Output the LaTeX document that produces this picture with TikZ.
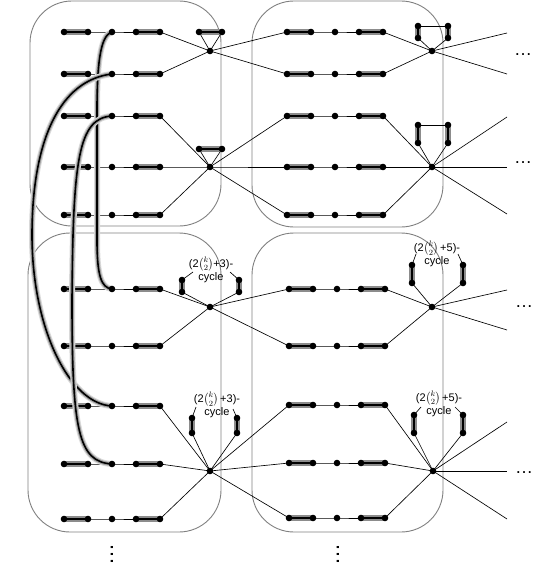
\documentclass[tikz,border=0pt]{standalone}
\usepackage{amsmath}
\usepackage{fontspec}
\setmainfont{Liberation Sans}
\pgfdeclarelayer{bg}\pgfdeclarelayer{mid}\pgfsetlayers{bg,mid,main}
\tikzset{
 vtx/.style={circle,fill=black,inner sep=0pt,minimum size=6.6pt},
 plain/.style={line width=0.65pt},
 match/.style={preaction={draw=black!45,line width=5.2pt},line width=1.2pt},
 longcurve/.style={preaction={draw=black!15,line width=6pt},preaction={draw=black!38,line width=3.8pt},line width=1.6pt},
 blob/.style={draw=black!50,line width=0.9pt,rounded corners=42pt},
 lbl/.style={align=center,font=\fontsize{11}{13}\selectfont,inner sep=0pt},
 hdots/.style={font=\fontsize{18}{18}\selectfont,inner sep=0pt},
 vdotsnode/.style={font=\fontsize{22}{22}\selectfont,inner sep=0pt,rotate=90}
}
\newcommand\mkrow[7]{\node[vtx](#1-1) at (#3,#2){};\node[vtx](#1-2) at (#4,#2){};\node[vtx](#1-3) at (#5,#2){};\node[vtx](#1-4) at (#6,#2){};\node[vtx](#1-5) at (#7,#2){};}
\newcommand\edrow[1]{\draw[match](#1-1.center)--(#1-2.center);\draw[plain](#1-2.center)--(#1-3.center)--(#1-4.center);\draw[match](#1-4.center)--(#1-5.center);}
\newcommand\mkcyc[5]{\node[vtx](#1a) at (#2,#4){};\node[vtx](#1b) at (#2,#5){};\node[vtx](#1c) at (#3,#4){};\node[vtx](#1d) at (#3,#5){};}
\begin{document}
\begin{tikzpicture}[x=1pt,y=-1pt]
\useasboundingbox (0,0) rectangle (539,567);
% rows
\mkrow{ra1}{32}{64}{88}{112}{136}{160}
\mkrow{ra2}{74}{64}{88}{112}{136}{160}
\mkrow{ra3}{116}{64}{88}{112}{136}{160}
\mkrow{ra4}{167}{64}{88}{112}{136}{160}
\mkrow{ra5}{215}{64}{88}{112}{136}{160}
\mkrow{rb1}{32}{287}{311}{335}{359}{383}
\mkrow{rb2}{74}{287}{311}{335}{359}{383}
\mkrow{rb3}{116}{287}{311}{335}{359}{383}
\mkrow{rb4}{167}{287}{311}{335}{359}{383}
\mkrow{rb5}{215}{287}{311}{335}{359}{383}
\mkrow{rc1}{289}{64}{88}{112}{136}{160}
\mkrow{rc2}{346}{64}{88}{112}{136}{160}
\mkrow{rc3}{406}{64}{88}{112}{136}{160}
\mkrow{rc4}{464}{64}{88}{112}{136}{160}
\mkrow{rc5}{519}{64}{88}{112}{136}{160}
\mkrow{rd1}{289}{289}{313}{337}{361}{385}
\mkrow{rd2}{346}{289}{313}{337}{361}{385}
\mkrow{rd3}{405}{289}{313}{337}{361}{385}
\mkrow{rd4}{463}{289}{313}{337}{361}{385}
\mkrow{rd5}{518}{289}{313}{337}{361}{385}
% hubs
\node[vtx] (ha1) at (210,51) {};
\node[vtx] (ha2) at (210,167) {};
\node[vtx] (hb1) at (432,51) {};
\node[vtx] (hb2) at (432,167) {};
\node[vtx] (hc1) at (210,307) {};
\node[vtx] (hc2) at (210,471) {};
\node[vtx] (hd1) at (432,307) {};
\node[vtx] (hd2) at (433,471) {};
% small gadgets
\node[vtx] (sa1l) at (199,32) {};
\node[vtx] (sa1r) at (222,32) {};
\node[vtx] (sa2l) at (199,149) {};
\node[vtx] (sa2r) at (222,149) {};
\mkcyc{cb1}{418}{448}{26}{38}
\mkcyc{cb2}{418}{448}{125}{143}
\mkcyc{cc1}{182}{239}{280}{292}
\mkcyc{cc2}{192}{237}{418}{433}
\mkcyc{cd1}{412}{463}{265}{283}
\mkcyc{cd2}{414}{463}{415}{433}
% labels
\node[lbl] (lc1) at (211,269.5) {(2$\binom{k}{2}$+3)-\\cycle};
\node[lbl] (lc2) at (217,405) {(2$\binom{k}{2}$\,+3)-\\cycle};
\node[lbl] (ld1) at (437,254) {(2$\binom{k}{2}$\,+5)-\\cycle};
\node[lbl] (ld2) at (439,403.5) {(2$\binom{k}{2}$\,+5)-\\cycle};
\coordinate (tc1l) at (193,272); \coordinate (tc1r) at (230,272);
\coordinate (tc2l) at (196,407); \coordinate (tc2r) at (233,409);
\coordinate (td1l) at (416,254); \coordinate (td1r) at (458,254);
\coordinate (td2l) at (421,407); \coordinate (td2r) at (455,407);
% outgoing ends
\coordinate (ob1u) at (507,33); \coordinate (ob1d) at (507,74);
\coordinate (ob2u) at (507,117); \coordinate (ob2m) at (507,167); \coordinate (ob2d) at (507,214);
\coordinate (od1u) at (507,290); \coordinate (od1d) at (507,330);
\coordinate (od2u) at (507,422); \coordinate (od2m) at (507,471); \coordinate (od2d) at (507,519);
% dots
\node[hdots] (e1) at (523,55) {…};
\node[hdots] (e2) at (523,163) {…};
\node[hdots] (e3) at (524,307) {…};
\node[hdots] (e4) at (524,473) {…};
\node[vdotsnode] (v1) at (112,554) {…};
\node[vdotsnode] (v2) at (338,554) {…};
\begin{pgfonlayer}{bg}
\draw[blob] (30,1) rectangle (221,226);
\draw[blob] (252,1) rectangle (443,227);
\draw[blob] (28,233) rectangle (221,532);
\draw[blob] (252,233) rectangle (443,532);
\foreach \r in {ra1,ra2,ra3,ra4,ra5,rb1,rb2,rb3,rb4,rb5,rc1,rc2,rc3,rc4,rc5,rd1,rd2,rd3,rd4,rd5}{\edrow{\r}}
% TL hubs
\foreach \r in {1,2}{\draw[plain] (ra\r-5.center)--(ha1.center)--(rb\r-1.center);}
\draw[plain] (sa1l.center)--(ha1.center)--(sa1r.center);
\draw[match] (sa1l.center)--(sa1r.center);
\foreach \r in {3,4,5}{\draw[plain] (ra\r-5.center)--(ha2.center)--(rb\r-1.center);}
\draw[plain] (sa2l.center)--(ha2.center)--(sa2r.center);
\draw[match] (sa2l.center)--(sa2r.center);
% TR hubs
\foreach \r in {1,2}{\draw[plain] (rb\r-5.center)--(hb1.center);}
\draw[plain] (hb1.center)--(ob1u); \draw[plain] (hb1.center)--(ob1d);
\draw[plain] (cb1b.center)--(hb1.center)--(cb1d.center);
\draw[plain] (cb1a.center)--(cb1c.center);
\draw[match] (cb1a.center)--(cb1b.center); \draw[match] (cb1c.center)--(cb1d.center);
\foreach \r in {3,4,5}{\draw[plain] (rb\r-5.center)--(hb2.center);}
\draw[plain] (hb2.center)--(ob2u); \draw[plain] (hb2.center)--(ob2m); \draw[plain] (hb2.center)--(ob2d);
\draw[plain] (cb2b.center)--(hb2.center)--(cb2d.center);
\draw[plain] (cb2a.center)--(cb2c.center);
\draw[match] (cb2a.center)--(cb2b.center); \draw[match] (cb2c.center)--(cb2d.center);
% BL hubs
\foreach \r in {1,2}{\draw[plain] (rc\r-5.center)--(hc1.center)--(rd\r-1.center);}
\draw[plain] (cc1b.center)--(hc1.center)--(cc1d.center);
\draw[match] (cc1a.center)--(cc1b.center); \draw[match] (cc1c.center)--(cc1d.center);
\draw[plain] (cc1a.center)--(tc1l); \draw[plain] (cc1c.center)--(tc1r);
\foreach \r in {3,4,5}{\draw[plain] (rc\r-5.center)--(hc2.center)--(rd\r-1.center);}
\draw[plain] (cc2b.center)--(hc2.center)--(cc2d.center);
\draw[match] (cc2a.center)--(cc2b.center); \draw[match] (cc2c.center)--(cc2d.center);
\draw[plain] (cc2a.center)--(tc2l); \draw[plain] (cc2c.center)--(tc2r);
% BR hubs
\foreach \r in {1,2}{\draw[plain] (rd\r-5.center)--(hd1.center);}
\draw[plain] (hd1.center)--(od1u); \draw[plain] (hd1.center)--(od1d);
\draw[plain] (cd1b.center)--(hd1.center)--(cd1d.center);
\draw[match] (cd1a.center)--(cd1b.center); \draw[match] (cd1c.center)--(cd1d.center);
\draw[plain] (cd1a.center)--(td1l); \draw[plain] (cd1c.center)--(td1r);
\foreach \r in {3,4,5}{\draw[plain] (rd\r-5.center)--(hd2.center);}
\draw[plain] (hd2.center)--(od2u); \draw[plain] (hd2.center)--(od2m); \draw[plain] (hd2.center)--(od2d);
\draw[plain] (cd2b.center)--(hd2.center)--(cd2d.center);
\draw[match] (cd2a.center)--(cd2b.center); \draw[match] (cd2c.center)--(cd2d.center);
\draw[plain] (cd2a.center)--(td2l); \draw[plain] (cd2c.center)--(td2r);
\end{pgfonlayer}
\begin{pgfonlayer}{mid}
\draw[longcurve] (ra1-3.center) .. controls (102,35) and (97,55) .. (97,110) -- (97,240) .. controls (97,275) and (101,288) .. (rc1-3.center);
\draw[longcurve] (ra2-3.center) .. controls (60,80) and (32,140) .. (32,235) .. controls (32,330) and (70,404) .. (rc3-3.center);
\draw[longcurve] (ra3-3.center) .. controls (78,118) and (73,160) .. (72,300) .. controls (72,430) and (78,462) .. (rc4-3.center);
\end{pgfonlayer}
\end{tikzpicture}
\end{document}
